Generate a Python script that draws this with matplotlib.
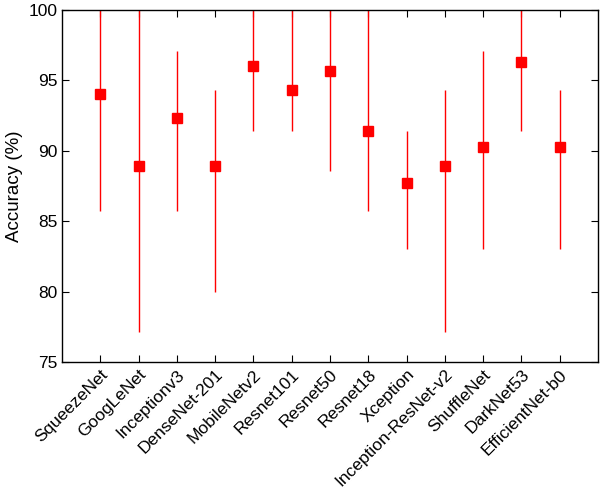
import numpy as np
import matplotlib.pyplot as plt

plt.rcParams['font.family'] = ['Liberation Sans', 'DejaVu Sans']

models = ['SqueezeNet', 'GoogLeNet', 'Inceptionv3', 'DenseNet-201', 'MobileNetv2',
          'Resnet101', 'Resnet50', 'Resnet18', 'Xception', 'Inception-ResNet-v2',
          'ShuffleNet', 'DarkNet53', 'EfficientNet-b0']
acc_mean = [94.0, 88.9, 92.3, 88.9, 96.0, 94.3, 95.7, 91.4, 87.7, 88.9, 90.3, 96.3, 90.3]
acc_min = [85.7, 77.1, 85.7, 80.0, 91.4, 91.4, 88.6, 85.7, 83.0, 77.1, 83.0, 91.4, 83.0]
acc_max = [100.0, 100.0, 97.1, 94.3, 100.0, 100.0, 100.0, 100.0, 91.4, 94.3, 97.1, 100.0, 94.3]

x = np.arange(1, len(models) + 1)
mean = np.array(acc_mean)
lo = mean - np.array(acc_min)
hi = np.array(acc_max) - mean

fig = plt.figure(figsize=(6.02, 4.90), dpi=100)
ax = fig.add_axes([0.103, 0.2612, 0.8904, 0.7184])

ax.errorbar(x, mean, yerr=[lo, hi], fmt='s', color='red', ecolor='red',
            markersize=7.5, elinewidth=1.0, capsize=0)

ax.set_xlim(0, len(models) + 1)
ax.set_ylim(75, 100)
ax.set_yticks([75, 80, 85, 90, 95, 100])
ax.set_xticks(x)
ax.set_xticklabels(models, rotation=45, ha='right', rotation_mode='anchor')
ax.set_ylabel('Accuracy (%)', fontsize=13.5)

ax.tick_params(direction='in', top=True, right=True, labelsize=12.5, length=5)
for s in ax.spines.values():
    s.set_linewidth(1.0)

fig.savefig('out.png', dpi=100)
